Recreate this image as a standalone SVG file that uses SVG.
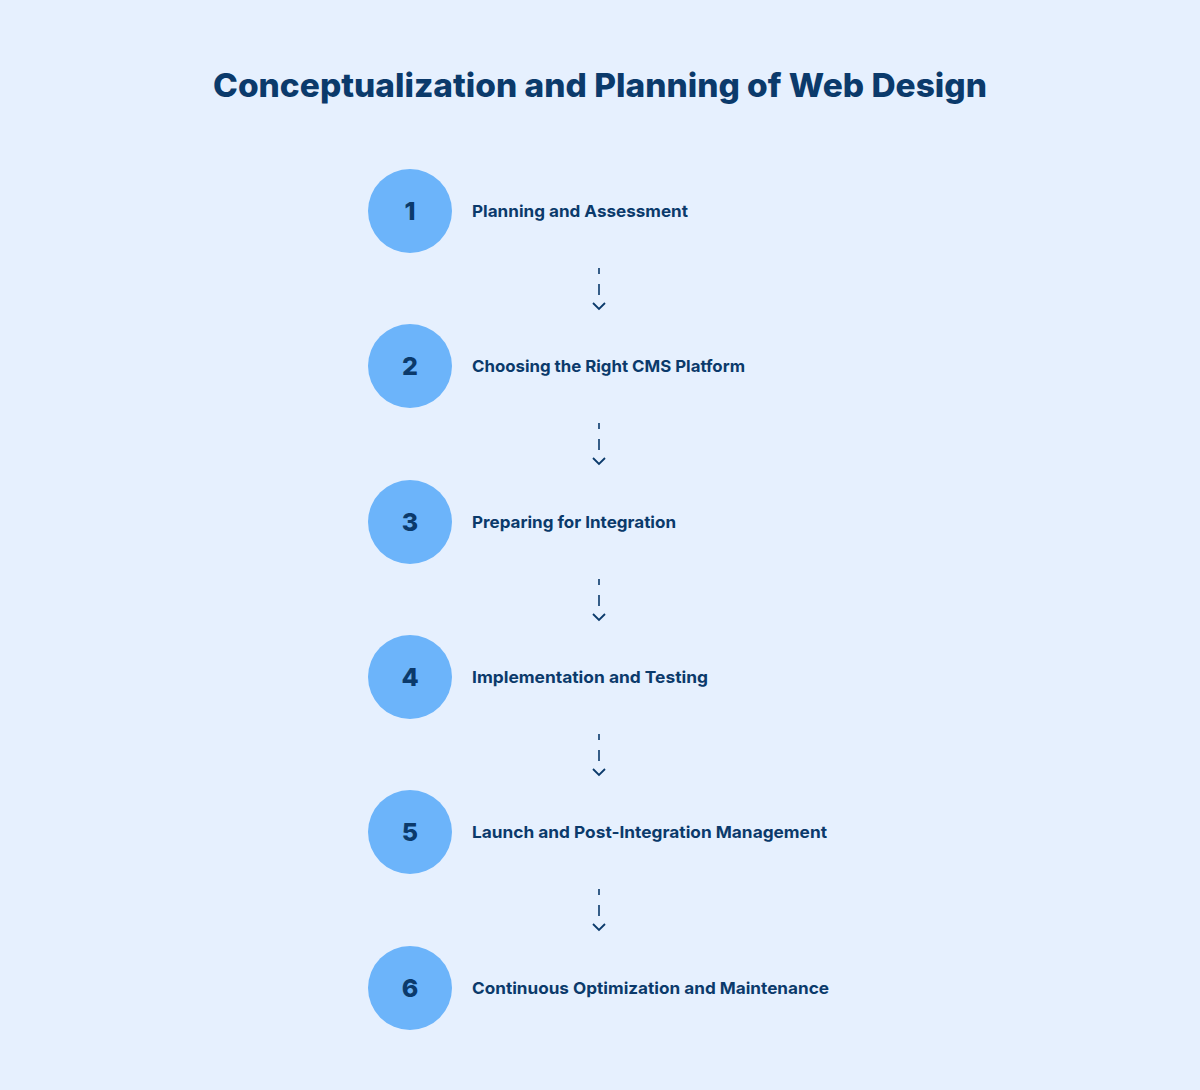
<svg xmlns="http://www.w3.org/2000/svg" width="1200" height="1090" viewBox="0 0 1200 1090">
<style>
.title{font-family:Inter,"Noto Sans","Liberation Sans",sans-serif;font-weight:800;font-size:33px;fill:#0B3A6B;}
.num{font-family:Inter,"Noto Sans","Liberation Sans",sans-serif;font-weight:800;font-size:25px;fill:#0B3A6B;}
.lbl{font-family:Inter,"Noto Sans","Liberation Sans",sans-serif;font-weight:700;font-size:16.5px;fill:#0B3A6B;}
.circ{fill:#6CB4FA;}
.conn{stroke:#0B3A6B;stroke-width:1.6;stroke-dasharray:6 10 11 30;fill:none;}
</style>
<defs>
<marker id="arr" markerWidth="10" markerHeight="14" refX="7" refY="7" orient="auto" markerUnits="userSpaceOnUse" viewBox="0 0 10 14">
<path d="M1,1 L7,7 L1,13" fill="none" stroke="#0B3A6B" stroke-width="1.8"/>
</marker>
</defs>
<rect width="1200" height="1090" fill="#E6F0FE"/>
<text class="title" x="600" y="97" text-anchor="middle" textLength="774" lengthAdjust="spacingAndGlyphs">Conceptualization and Planning of Web Design</text>
<g id="connectors">
<path class="conn" d="M599,268 V309" marker-end="url(#arr)"/>
<path class="conn" d="M599,423 V464" marker-end="url(#arr)"/>
<path class="conn" d="M599,579 V620" marker-end="url(#arr)"/>
<path class="conn" d="M599,734 V775" marker-end="url(#arr)"/>
<path class="conn" d="M599,889 V930" marker-end="url(#arr)"/>
</g>
<g id="node1"><circle class="circ" cx="410" cy="211" r="42"/><text class="num" x="410" y="220" text-anchor="middle">1</text><text class="lbl" x="472" y="217" textLength="216" lengthAdjust="spacingAndGlyphs">Planning and Assessment</text></g>
<g id="node2"><circle class="circ" cx="410" cy="366" r="42"/><text class="num" x="410" y="375" text-anchor="middle">2</text><text class="lbl" x="472" y="372" textLength="273" lengthAdjust="spacingAndGlyphs">Choosing the Right CMS Platform</text></g>
<g id="node3"><circle class="circ" cx="410" cy="522" r="42"/><text class="num" x="410" y="531" text-anchor="middle">3</text><text class="lbl" x="472" y="528" textLength="204" lengthAdjust="spacingAndGlyphs">Preparing for Integration</text></g>
<g id="node4"><circle class="circ" cx="410" cy="677" r="42"/><text class="num" x="410" y="686" text-anchor="middle">4</text><text class="lbl" x="472" y="683" textLength="236" lengthAdjust="spacingAndGlyphs">Implementation and Testing</text></g>
<g id="node5"><circle class="circ" cx="410" cy="832" r="42"/><text class="num" x="410" y="841" text-anchor="middle">5</text><text class="lbl" x="472" y="838" textLength="355" lengthAdjust="spacingAndGlyphs">Launch and Post-Integration Management</text></g>
<g id="node6"><circle class="circ" cx="410" cy="988" r="42"/><text class="num" x="410" y="997" text-anchor="middle">6</text><text class="lbl" x="472" y="994" textLength="357" lengthAdjust="spacingAndGlyphs">Continuous Optimization and Maintenance</text></g>
</svg>
